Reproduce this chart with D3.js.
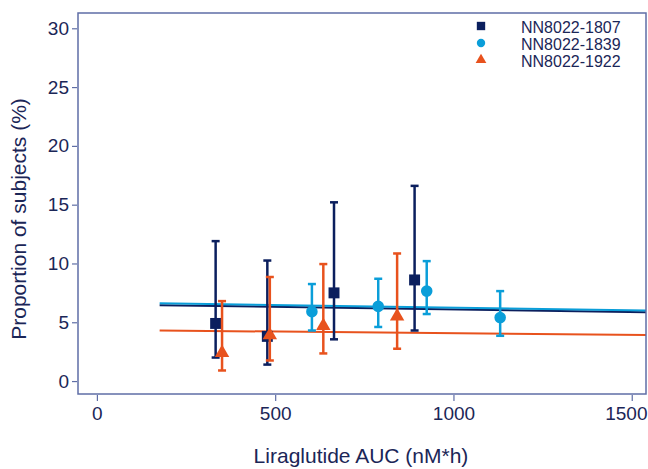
<!DOCTYPE html>
<html><head><meta charset="utf-8">
<script src="https://cdn.jsdelivr.net/npm/d3@7"></script>
<style>body{margin:0;background:#fff}svg{display:block}</style>
</head><body>
<svg id="c" width="648" height="469"></svg>
<script>
const seriesNames = ["NN8022-1807", "NN8022-1839", "NN8022-1922"];
const seriesColors = ["#0b1f5e", "#0a9ed9", "#e8521d"];
const seriesShapes = ["square", "circle", "triangle"];
// binned data: AUC (x), proportion (%), lower CI, upper CI
const auc1807 = [333, 478, 665, 891];
const val1807 = [4.9, 3.8, 7.5, 8.6];
const lo1807 = [2.0, 1.4, 3.55, 4.3];
const hi1807 = [11.9, 10.25, 15.2, 16.6];
const auc1839 = [603, 789, 925, 1131];
const val1839 = [5.9, 6.35, 7.65, 5.4];
const lo1839 = [4.3, 4.6, 5.7, 3.85];
const hi1839 = [8.25, 8.7, 10.2, 7.65];
const auc1922 = [351, 485, 635, 842];
const val1922 = [2.4, 3.9, 4.7, 5.5];
const lo1922 = [0.9, 1.75, 2.35, 2.75];
const hi1922 = [6.8, 8.85, 9.95, 10.85];
// model-fit lines (start, end)
const fitX = [176, 1540];
const fit1807 = [6.45, 5.85];
const fit1839 = [6.62, 6.0];
const fit1922 = [4.3, 3.92];
const xTicks = [0, 500, 1000, 1500];
const yTicks = [0, 5, 10, 15, 20, 25, 30];

const svg = d3.select("#c");
const m = {l: 78, t: 13, r: 646, b: 394};
const x = d3.scaleLinear().domain([-53, 1540]).range([m.l, m.r]);
const y = d3.scaleLinear().domain([-1.1, 31.3]).range([m.b, m.t]);
const textCol = "#1b2657";
const frameCol = "#5f6ea6";
const font = "'Liberation Sans', Arial, sans-serif";

const series = [
  {aucs: auc1807, v: val1807, lo: lo1807, hi: hi1807, fit: fit1807},
  {aucs: auc1839, v: val1839, lo: lo1839, hi: hi1839, fit: fit1839},
  {aucs: auc1922, v: val1922, lo: lo1922, hi: hi1922, fit: fit1922}
];

svg.append("clipPath").attr("id", "pc").append("rect")
  .attr("x", m.l).attr("y", m.t).attr("width", m.r - m.l).attr("height", m.b - m.t);

const plot = svg.append("g").attr("clip-path", "url(#pc)");

function symbolFor(shape, size) {
  const t = shape === "square" ? d3.symbolSquare : shape === "circle" ? d3.symbolCircle : d3.symbolTriangle;
  return d3.symbol().type(t).size(size)();
}
const sizes = {square: 120, circle: 105, triangle: 90};

// fit lines
series.forEach((s, i) => {
  plot.append("line")
    .attr("x1", x(fitX[0])).attr("x2", x(fitX[1]))
    .attr("y1", y(s.fit[0])).attr("y2", y(s.fit[1]))
    .attr("stroke", seriesColors[i]).attr("stroke-width", 2);
});

// error bars and markers
series.forEach((s, i) => {
  const g = plot.append("g");
  s.aucs.forEach((a, j) => {
    const cx = x(a);
    g.append("line").attr("x1", cx).attr("x2", cx).attr("y1", y(s.lo[j])).attr("y2", y(s.hi[j]))
      .attr("stroke", seriesColors[i]).attr("stroke-width", 2.5);
    [s.lo[j], s.hi[j]].forEach(vv => {
      g.append("line").attr("x1", cx - 4).attr("x2", cx + 4).attr("y1", y(vv)).attr("y2", y(vv))
        .attr("stroke", seriesColors[i]).attr("stroke-width", 2.5);
    });
    g.append("path").attr("d", symbolFor(seriesShapes[i], sizes[seriesShapes[i]]))
      .attr("transform", `translate(${cx},${y(s.v[j])})`)
      .attr("fill", seriesColors[i]);
  });
});

// frame
svg.append("rect").attr("x", m.l).attr("y", m.t).attr("width", m.r - m.l).attr("height", m.b - m.t)
  .attr("fill", "none").attr("stroke", frameCol).attr("stroke-width", 1.5);

// y axis
const ya = svg.append("g").attr("transform", `translate(${m.l - 1},0)`)
  .call(d3.axisLeft(y).tickValues(yTicks).tickFormat(d3.format("d")).tickSize(5).tickPadding(3));
ya.select(".domain").remove();
ya.selectAll("line").attr("stroke", frameCol).attr("stroke-width", 1.2);
ya.selectAll("text").attr("fill", textCol).style("font-family", font).style("font-size", "19px");

// x axis
const xa = svg.append("g").attr("transform", `translate(0,${m.b + 1})`)
  .call(d3.axisBottom(x).tickValues(xTicks).tickFormat(d3.format("d")).tickSize(6).tickPadding(6));
xa.select(".domain").remove();
xa.selectAll("line").attr("stroke", frameCol).attr("stroke-width", 1.2);
xa.selectAll("text").attr("fill", textCol).style("font-family", font).style("font-size", "19px");
// keep the last label inside the window
xa.selectAll(".tick").filter(d => d === 1500).select("text")
  .attr("text-anchor", "end").attr("x", 647 - x(1500));

// axis titles
svg.append("text").attr("x", 361).attr("y", 463).attr("text-anchor", "middle")
  .attr("fill", textCol).style("font-family", font).style("font-size", "21px")
  .text("Liraglutide AUC (nM*h)");
svg.append("text").attr("transform", "translate(26,219) rotate(-90)").attr("text-anchor", "middle")
  .attr("fill", textCol).style("font-family", font).style("font-size", "21px")
  .text("Proportion of subjects (%)");

// legend
const leg = svg.append("g");
seriesNames.forEach((n, i) => {
  const ly = 26 + i * 17;
  leg.append("path").attr("d", symbolFor(seriesShapes[i], seriesShapes[i] === "square" ? 70 : seriesShapes[i] === "circle" ? 55 : 50))
    .attr("transform", `translate(481,${ly})`).attr("fill", seriesColors[i]);
  leg.append("text").attr("x", 521).attr("y", ly + 7).attr("fill", textCol)
    .style("font-family", font).style("font-size", "16px").text(n);
});
</script>
</body></html>
